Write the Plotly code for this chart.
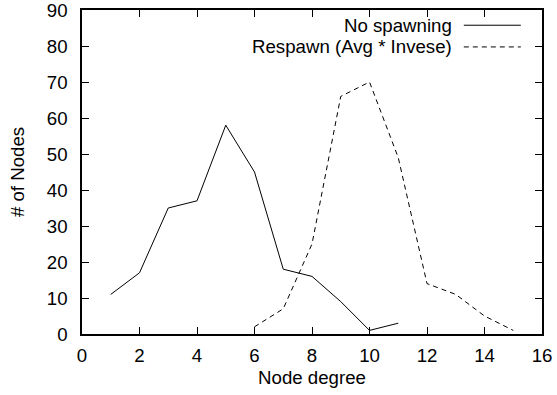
import plotly.graph_objects as go

x_nospawn = [1, 2, 3, 4, 5, 6, 7, 8, 9, 10, 11]
y_nospawn = [11, 17, 35, 37, 58, 45, 18, 16, 9, 1, 3]
x_respawn = [6, 7, 8, 9, 10, 11, 12, 13, 14, 15]
y_respawn = [2, 7, 25, 66, 70, 49, 14, 11, 5, 1]
series_names = ["No spawning", "Respawn (Avg * Invese)"]
x_ticks = list(range(0, 17, 2))
y_ticks = list(range(0, 91, 10))

FONT = "Liberation Sans, Arial, sans-serif"
FS = 18.67
DASH = "5px,4px"

fig = go.Figure()
fig.add_trace(go.Scatter(x=x_nospawn, y=y_nospawn, mode="lines", name=series_names[0],
                         line=dict(color="black", width=1)))
fig.add_trace(go.Scatter(x=x_respawn, y=y_respawn, mode="lines", name=series_names[1],
                         line=dict(color="black", width=1, dash=DASH)))

axis_common = dict(showgrid=False, zeroline=False, showline=True, linecolor="black",
                   linewidth=1.5, mirror="ticks", ticks="inside", ticklen=7,
                   tickwidth=1, tickcolor="black", automargin=False,
                   ticklabeloverflow="allow",
                   tickfont=dict(family=FONT, size=FS, color="black"))

fig.update_layout(
    width=557, height=395,
    margin=dict(l=82, r=15, t=10, b=61),
    paper_bgcolor="white", plot_bgcolor="white",
    showlegend=False,
    font=dict(family=FONT, size=FS, color="black"),
    xaxis=dict(range=[0, 16], tickvals=x_ticks, ticklabelstandoff=4,
               title=dict(text="Node degree", font=dict(family=FONT, size=FS, color="black"), standoff=6),
               **axis_common),
    yaxis=dict(range=[0, 90], tickvals=y_ticks, ticklabelstandoff=9,
               title=dict(text="# of Nodes", font=dict(family=FONT, size=FS, color="black"), standoff=17),
               **axis_common),
)

# Legend drawn gnuplot-style: right-aligned text with sample line to the right
legend_rows = [(series_names[0], "solid", 0.953), (series_names[1], DASH, 0.886)]
for name, dash, yy in legend_rows:
    fig.add_annotation(xref="paper", yref="paper", x=0.809, y=yy, text=name,
                       showarrow=False, xanchor="right", yanchor="middle",
                       font=dict(family=FONT, size=FS, color="black"))
    fig.add_shape(type="line", xref="paper", yref="paper", x0=0.830, x1=0.954, y0=yy, y1=yy,
                  line=dict(color="black", width=1, dash=dash))

fig.write_html("out.html", config={"displayModeBar": False},
               post_script="document.body.style.margin='0';")
